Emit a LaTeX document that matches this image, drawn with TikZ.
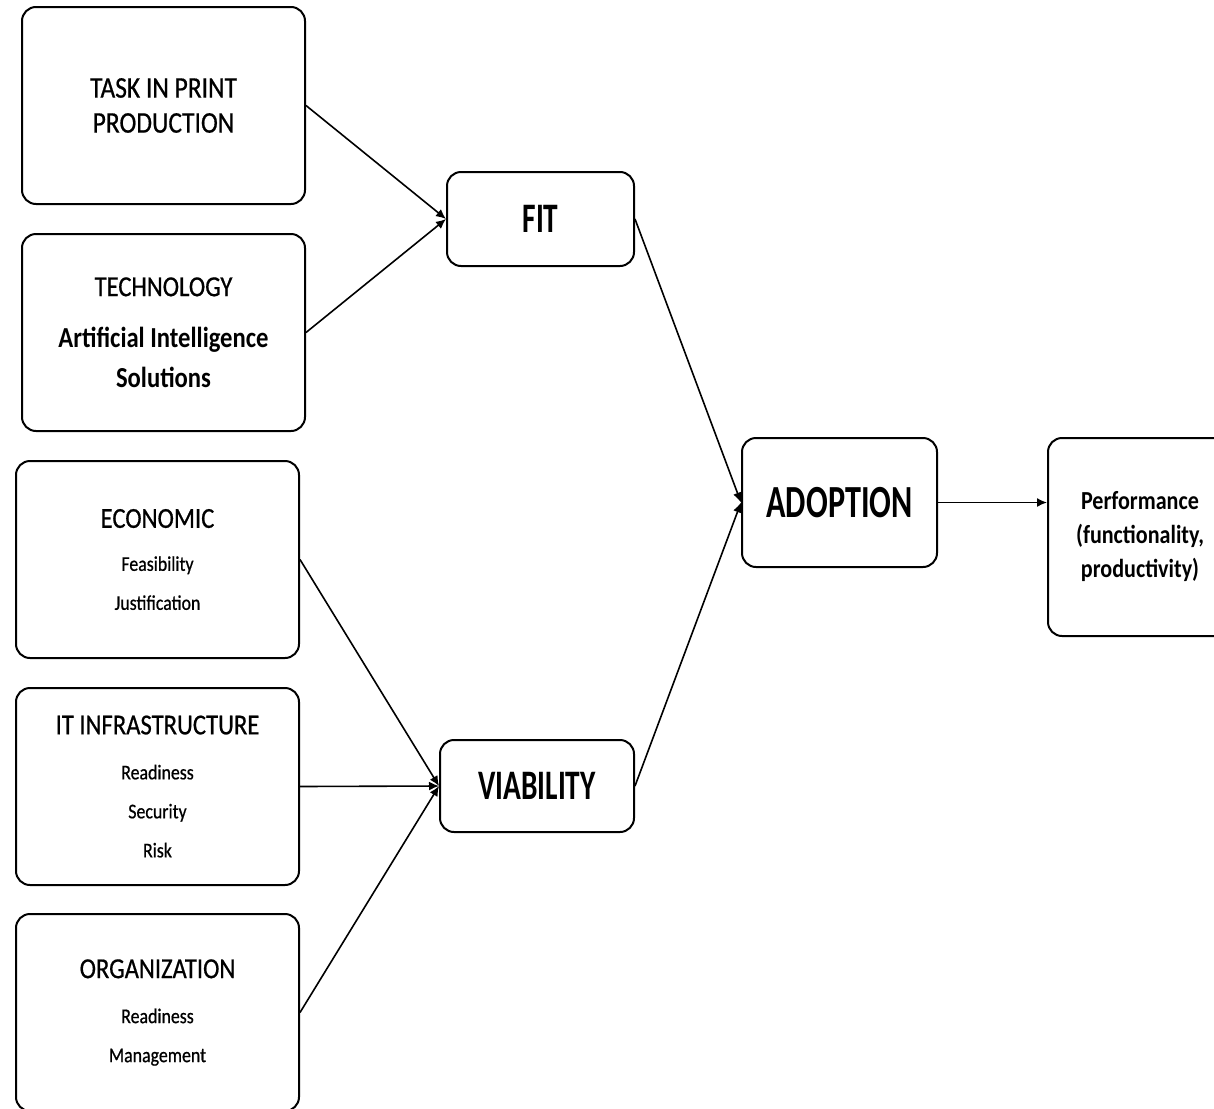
\documentclass[tikz,border=0pt]{standalone}
\usepackage{fontspec}
\setmainfont{Carlito}[FakeStretch=0.85, UprightFeatures={FakeBold=0.6}]
\newfontfamily\narrowfont{Carlito}[FakeStretch=0.70]
\usetikzlibrary{arrows.meta}
\tikzset{
  box/.style={
    draw=black,
    line width=1pt,
    rounded corners=7pt,
    fill=white,
    align=center,
    inner sep=0pt
  },
  box-factor/.style={box, minimum width=141.5pt, minimum height=98.5pt},
  box-sub/.style={box-factor, font=\fontsize{10.5}{19.5}\selectfont},
  box-core/.style={box, font=\narrowfont\bfseries\fontsize{21}{25}\selectfont},
  link/.style={line width=0.8pt, -{Latex[length=5pt,width=4.5pt]}}
}
\newcommand{\boxhead}[1]{{\fontsize{14.5}{18}\selectfont #1}}
\newcommand{\boxbold}[1]{{\bfseries\fontsize{14.5}{18.5}\selectfont #1}}

\begin{document}
\begin{tikzpicture}[x=0.5pt,y=-0.5pt]
  \useasboundingbox (0,0) rectangle (1214,1108);

  % --- left column: fit factors ---
  \node[box-factor, font=\fontsize{15}{17.5}\selectfont] (task) at (163.5,105.5)
    {TASK IN PRINT\\PRODUCTION};
  \node[box-factor, font=\fontsize{14.5}{12}\selectfont] (tech) at (163.5,332.5)
    {\boxhead{TECHNOLOGY}\\[13.5pt]
     \boxbold{Artificial Intelligence}\\[6.5pt]\boxbold{Solutions}};

  % --- left column: viability factors ---
  \node[box-sub] (econ) at (157.5,559.5)
    {\boxhead{ECONOMIC}\\[2pt] Feasibility\\Justification};
  \node[box-sub] (infra) at (157.5,786.5)
    {\boxhead{IT INFRASTRUCTURE}\\[3pt] Readiness\\Security\\Risk};
  \node[box-sub] (org) at (157.5,1012.5)
    {\boxhead{ORGANIZATION}\\[3pt] Readiness\\Management};

  % --- middle: fit and viability ---
  \node[box-core, minimum width=93.5pt, minimum height=47pt] (fit) at (540.5,219) {FIT};
  \node[box-core, minimum width=97pt, minimum height=46pt] (via) at (537,786) {VIABILITY};

  % --- right: adoption and outcome ---
  \node[box-core, font=\narrowfont\bfseries\fontsize{23}{27}\selectfont,
        minimum width=97.5pt, minimum height=64.5pt] (adopt) at (839.5,502.5) {ADOPTION};
  \node[box, font=\bfseries\fontsize{13}{17}\selectfont,
        minimum width=92pt, minimum height=99pt] (perf) at (1140,537)
    {Performance\\(functionality,\\productivity)};

  % --- connectors ---
  \draw[link] (task.east) -- (fit.west);
  \draw[link] (tech.east) -- (fit.west);
  \draw[link] (econ.east) -- (via.west);
  \draw[link] (infra.east) -- (via.west);
  \draw[link] (org.east) -- (via.west);
  \draw[link] (fit.east) -- (adopt.west);
  \draw[link] (via.east) -- (adopt.west);
  \draw[link] (adopt.east) -- (adopt.east -| perf.west);
\end{tikzpicture}
\end{document}
